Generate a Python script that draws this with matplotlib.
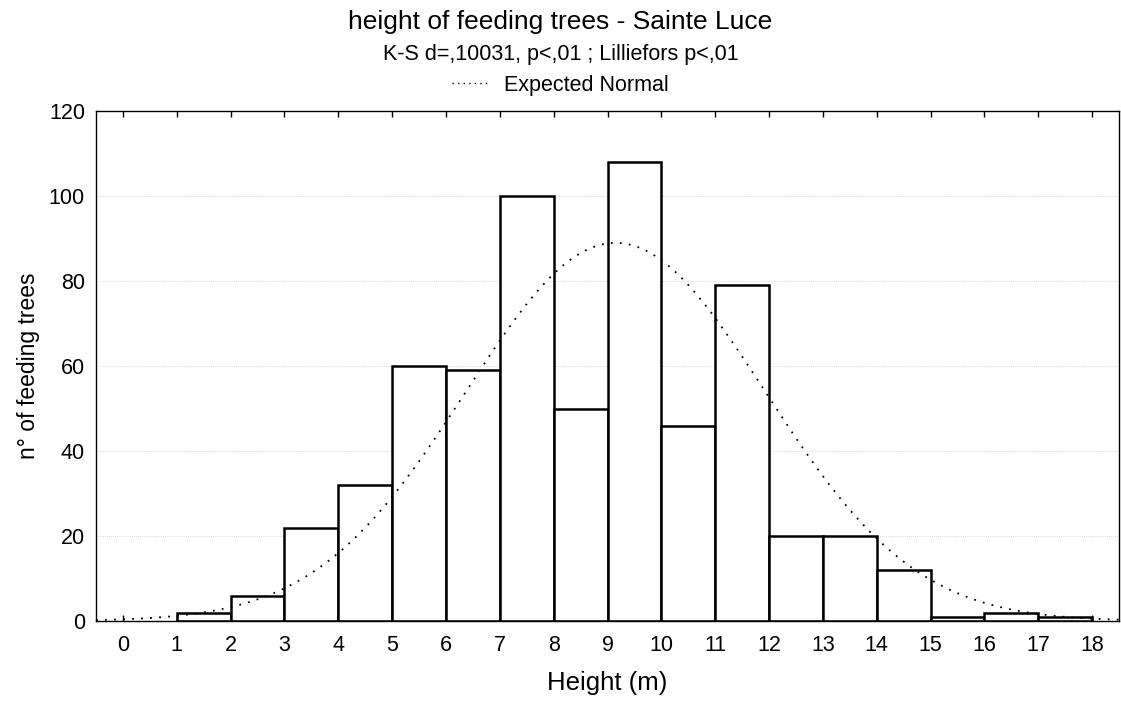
import numpy as np
import matplotlib
matplotlib.use("Agg")
import matplotlib.pyplot as plt
from matplotlib.lines import Line2D

plt.rcParams['font.family'] = ['Liberation Sans', 'DejaVu Sans']

# Data
bin_left = [1, 2, 3, 4, 5, 6, 7, 8, 9, 10, 11, 12, 13, 14, 15, 16, 17]
counts = [2, 6, 22, 32, 60, 59, 100, 50, 108, 46, 79, 20, 20, 12, 1, 2, 1]
xticks = list(range(0, 19))
yticks = [0, 20, 40, 60, 80, 100, 120]

# Expected normal parameters
norm_mean = 9.15
norm_sd = 2.78
n_total = sum(counts)
bin_width = 1.0

fig = plt.figure(figsize=(11.21, 7.04), dpi=100)
ax = fig.add_axes([96/1121, 1 - 621/704, (1119 - 96)/1121, (621 - 111)/704])

ax.set_axisbelow(True)
ax.yaxis.grid(True, color='#c8c8c8', linestyle=(0, (1, 1.5)), linewidth=0.6)

ax.bar(bin_left, counts, width=1.0, align='edge', facecolor='white',
       edgecolor='black', linewidth=1.8, zorder=2)

xs = np.linspace(-0.5, 18.5, 400)
ys = n_total * bin_width / (norm_sd * np.sqrt(2 * np.pi)) * np.exp(-0.5 * ((xs - norm_mean) / norm_sd) ** 2)
ax.plot(xs, ys, color='black', linestyle=(0, (1, 4)), linewidth=1.3, zorder=3)

ax.set_xlim(-0.5, 18.5)
ax.set_ylim(0, 120)
ax.set_xticks(xticks)
ax.set_yticks(yticks)
ax.tick_params(axis='x', direction='in', length=4, width=1, top=True, labelsize=15.5, pad=10)
ax.tick_params(axis='y', length=0, labelsize=15.5, pad=8)
for s in ax.spines.values():
    s.set_linewidth(1.0)

ax.set_xlabel('Height (m)', fontsize=18.5, labelpad=11)
ax.set_ylabel('n° of feeding trees', fontsize=16.5, labelpad=6)

fig.text(0.5, 1 - 29/704, 'height of feeding trees - Sainte Luce', ha='center', va='baseline', fontsize=19)
fig.text(0.5, 1 - 60/704, 'K-S d=,10031, p<,01 ; Lilliefors p<,01', ha='center', va='baseline', fontsize=15.5)

handle = Line2D([], [], color='black', linestyle=(0, (1, 3)), linewidth=1.0)
fig.legend([handle], ['Expected Normal'], loc='center', bbox_to_anchor=(0.5, 1 - 85/704),
           frameon=False, fontsize=15.5, handlelength=1.6, handletextpad=0.8,
           borderpad=0, borderaxespad=0)

fig.savefig('out.png', dpi=100)
